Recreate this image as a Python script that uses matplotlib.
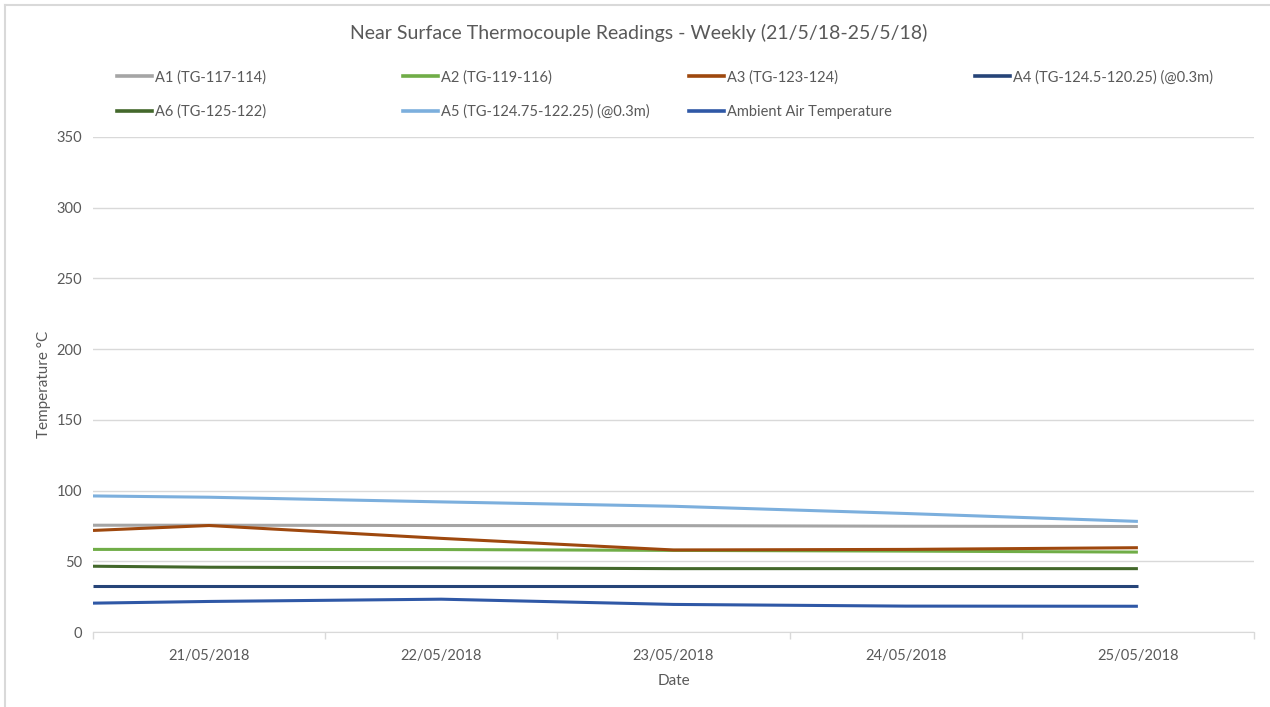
import matplotlib.pyplot as plt
from matplotlib.lines import Line2D

plt.rcParams["font.family"] = ["Lato", "DejaVu Sans"]

# day offsets from 21/05/2018 (first reading sits half a day before)
days = [-0.5, 0, 1, 2, 3, 4]
day_labels = ["21/05/2018", "22/05/2018", "23/05/2018", "24/05/2018", "25/05/2018"]

a1 = [75.5, 75.5, 75.3, 75.2, 74.8, 74.6]
a2 = [58.4, 58.4, 58.3, 57.7, 57.2, 56.5]
a3 = [71.8, 75.3, 66.2, 58.0, 58.4, 59.6]
a4 = [32.8, 32.8, 32.8, 32.8, 32.8, 32.8]
a6 = [46.5, 45.8, 45.4, 44.8, 44.8, 44.8]
a5 = [96.2, 95.3, 92.0, 88.9, 83.8, 78.2]
ambient = [20.4, 21.6, 23.2, 19.5, 18.3, 18.2]

series = [
    ("A1 (TG-117-114)", a1, "#A5A5A5"),
    ("A2 (TG-119-116)", a2, "#70AD47"),
    ("A3 (TG-123-124)", a3, "#9E480E"),
    ("A4 (TG-124.5-120.25) (@0.3m)", a4, "#264478"),
    ("A6 (TG-125-122)", a6, "#43682B"),
    ("A5 (TG-124.75-122.25) (@0.3m)", a5, "#7CAFDD"),
    ("Ambient Air Temperature", ambient, "#2F58A6"),
]

W, H = 1270, 707
fig = plt.figure(figsize=(W / 100, H / 100), dpi=100)
fig.patch.set_facecolor("white")

left, right, top, bottom = 93, 1254, 137, 632
ax = fig.add_axes([left / W, 1 - bottom / H, (right - left) / W, (bottom - top) / H])

handles = []
for label, vals, color in series:
    ax.plot(days, vals, color=color, linewidth=2.2, solid_capstyle="butt", zorder=3)
    handles.append(Line2D([0], [0], color=color, linewidth=2.6, label=label))

ax.set_xlim(-0.5, 4.5)
ax.set_ylim(0, 350)
ax.set_yticks(range(0, 351, 50))
ax.set_xticks(range(len(day_labels)))
ax.set_xticklabels(day_labels)
ax.set_xticks([x + 0.5 for x in range(-1, len(day_labels))], minor=True)
ax.tick_params(axis="x", which="major", length=0, pad=12, labelsize=10.5, labelcolor="#595959")
ax.tick_params(axis="x", which="minor", length=5, color="#D9D9D9", width=1)
ax.tick_params(axis="y", length=0, pad=8, labelsize=10.5, labelcolor="#595959")
ax.grid(axis="y", color="#D9D9D9", linewidth=1, zorder=0)
for s in ["top", "right", "left"]:
    ax.spines[s].set_visible(False)
ax.spines["bottom"].set_color("#D9D9D9")
ax.set_axisbelow(True)

ax.set_xlabel("Date", fontsize=11, color="#595959", labelpad=8)
ax.set_ylabel("Temperature °C", fontsize=11, color="#595959", labelpad=4)

fig.text(0.5 * (350 + 928) / W, 1 - 33 / H,
         "Near Surface Thermocouple Readings - Weekly (21/5/18-25/5/18)",
         ha="center", va="center", fontsize=14, color="#595959")

# legend laid out in four equal columns, two rows
col_x = [117, 403, 689, 975]
for c in range(4):
    col_handles = [h for i, h in enumerate(handles) if i % 4 == c]
    fig.legend(handles=col_handles, loc="upper left",
               bbox_to_anchor=(col_x[c] / W, 1 - 70 / H),
               frameon=False, fontsize=10.5, labelcolor="#595959",
               handlelength=2.4, handletextpad=0.2, labelspacing=1.4,
               borderaxespad=0, borderpad=0)

# chart area border (left and top edges)
fig.add_artist(Line2D([5 / W, 5 / W], [0, 1 - 5 / H], color="#D9D9D9", linewidth=1.5))
fig.add_artist(Line2D([5 / W, 1], [1 - 5 / H, 1 - 5 / H], color="#D9D9D9", linewidth=1.5))

fig.savefig("out.png", dpi=100, facecolor="white")
